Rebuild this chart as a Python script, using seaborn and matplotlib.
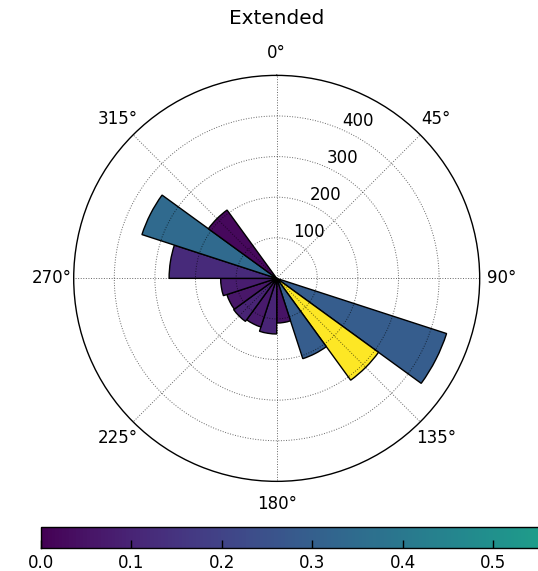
import numpy as np
import matplotlib
matplotlib.use("Agg")
import matplotlib.pyplot as plt
import seaborn as sns
from matplotlib.cm import ScalarMappable
from matplotlib.colors import Normalize

# ---- data (20 direction bins of 18 degrees, clockwise from north) ----
bin_start_deg = [0, 18, 36, 54, 72, 90, 108, 126, 144, 162,
                 180, 198, 216, 234, 252, 270, 288, 306, 324, 342]
counts = [0, 0, 0, 0, 0, 0, 440, 310, 208, 110,
          137, 126, 131, 129, 138, 265, 349, 208, 0, 0]
color_values = [0, 0, 0, 0, 0, 0, 0.29, 1.0, 0.29, 0.05,
                0.10, 0.07, 0.10, 0.06, 0.08, 0.12, 0.34, 0.02, 0, 0]
radial_ticks = [100, 200, 300, 400]
theta_ticks = [0, 45, 90, 135, 180, 225, 270, 315]
cbar_ticks = [0.0, 0.1, 0.2, 0.3, 0.4, 0.5]
title = "Extended"

sns.set_theme(style="white")
plt.rcParams.update({
    "font.family": ["DejaVu Sans"],
    "font.size": 12,
    "axes.titlesize": 14.4,
    "xtick.labelsize": 12,
    "ytick.labelsize": 12,
    "axes.edgecolor": "black",
    "axes.linewidth": 1.0,
    "axes.axisbelow": False,
    "grid.color": "black",
    "grid.linestyle": ":",
    "grid.linewidth": 0.7,
    "grid.alpha": 0.6,
    "text.color": "black",
    "xtick.color": "black",
    "ytick.color": "black",
})

cmap = sns.color_palette("viridis", as_cmap=True)
norm = Normalize(vmin=0.0, vmax=1.0)

fig = plt.figure(figsize=(5.38, 5.71), dpi=100)
fig.patch.set_facecolor("white")

ax = fig.add_axes([0.137, 0.157, 0.7546, 0.711], projection="polar")
ax.set_theta_zero_location("N")
ax.set_theta_direction(-1)
ax.set_axisbelow(False)

width = np.deg2rad(18)
centers = np.deg2rad(np.array(bin_start_deg) + 9)
ax.bar(centers, counts, width=width, bottom=0,
       color=cmap(norm(np.array(color_values))),
       edgecolor="black", linewidth=1.0, zorder=1)

ax.set_ylim(0, 500)
ax.set_yticks(radial_ticks)
ax.set_yticklabels([str(t) for t in radial_ticks])
ax.set_rlabel_position(24)
ax.set_thetagrids(theta_ticks, [f"{t}°" for t in theta_ticks])
ax.grid(True)
ax.tick_params(axis="x", pad=3)
for lbl in ax.get_yticklabels():
    lbl.set_horizontalalignment("left")
    lbl.set_verticalalignment("bottom")

fig.text(277 / 538, 1 - 18 / 571, title, ha="center", va="center",
         fontsize=14.4)

cax = fig.add_axes([41 / 538, 0.0403, 904 / 538, 0.0368])
cb = fig.colorbar(ScalarMappable(norm=norm, cmap=cmap), cax=cax,
                  orientation="horizontal", ticks=cbar_ticks)
cb.ax.set_axisbelow(False)
cb.ax.set_xticklabels([f"{t:.1f}" for t in cbar_ticks])
cb.ax.xaxis.set_tick_params(which="major", direction="in", length=6, width=1,
                            color="black", top=False, bottom=True,
                            labelsize=12, pad=4)
cb.ax.xaxis.set_tick_params(which="minor", length=0)
cb.outline.set_linewidth(1.0)

fig.savefig("out.png", dpi=100, facecolor="white")
